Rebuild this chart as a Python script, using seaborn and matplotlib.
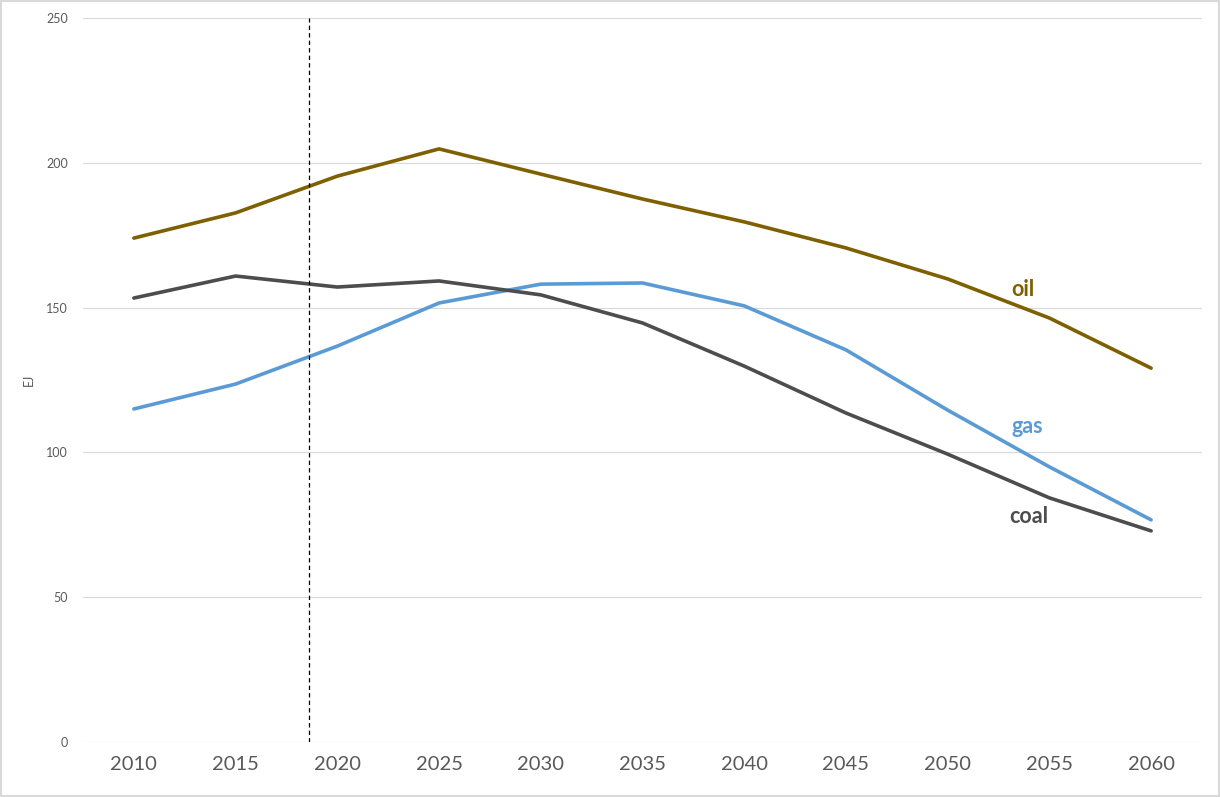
import pandas as pd
import seaborn as sns
import matplotlib.pyplot as plt

# values (EJ)
years = [2010, 2015, 2020, 2025, 2030, 2035, 2040, 2045, 2050, 2055, 2060]
oil = [174.0, 182.7, 195.4, 204.8, 196.1, 187.5, 179.6, 170.6, 159.9, 146.4, 129.1]
gas = [115.0, 123.6, 136.7, 151.6, 158.1, 158.5, 150.6, 135.4, 114.6, 95.0, 76.7]
coal = [153.3, 160.9, 157.1, 159.2, 154.4, 144.7, 129.8, 113.6, 99.4, 84.3, 72.9]
today_year = 2018.6

df = pd.DataFrame({"year": years, "oil": oil, "gas": gas, "coal": coal})
long_df = df.melt(id_vars="year", var_name="fuel", value_name="EJ")

colors = {"oil": "#7F6000", "gas": "#5B9BD5", "coal": "#4D4D4D"}

sns.set_theme(style="white")
plt.rcParams['font.family'] = ['Lato', 'DejaVu Sans']

fig = plt.figure(figsize=(12.2, 7.97), dpi=100)
ax = fig.add_axes([83/1220, 1 - 742/797, (1202 - 83)/1220, (742 - 18)/797])

sns.lineplot(data=long_df, x="year", y="EJ", hue="fuel", palette=colors,
             linewidth=2.6, legend=False, ax=ax)

ax.axvline(today_year, color="black", linestyle=(0, (3.5, 2.5)), linewidth=0.9)

ax.set_xlim(2007.5, 2062.5)
ax.set_ylim(0, 250)
ax.set_xticks(years)
ax.set_yticks(range(0, 251, 50))
ax.tick_params(axis="x", labelsize=14.5, labelcolor="#595959", length=0, pad=10)
ax.tick_params(axis="y", labelsize=9, labelcolor="#595959", length=0, pad=11)
ax.yaxis.grid(True, color="#D9D9D9", linewidth=0.8)
ax.set_axisbelow(True)
sns.despine(ax=ax, left=True, bottom=True)
ax.set_xlabel("")
ax.set_ylabel("EJ", fontsize=9, color="#595959", labelpad=8)

# direct labels near the lines
ax.text(2053.7, 156.4, "oil", color=colors["oil"], fontsize=15.5, fontweight="bold", ha="center", va="center")
ax.text(2053.9, 108.8, "gas", color=colors["gas"], fontsize=15.5, fontweight="bold", ha="center", va="center")
ax.text(2054.0, 77.7, "coal", color=colors["coal"], fontsize=15.5, fontweight="bold", ha="center", va="center")

# light border round the whole picture
fig.patches.append(plt.Rectangle((0.001, 0.001), 0.998, 0.998, transform=fig.transFigure,
                                 fill=False, edgecolor="#D9D9D9", linewidth=1.5))

fig.savefig("out.png", dpi=100)
